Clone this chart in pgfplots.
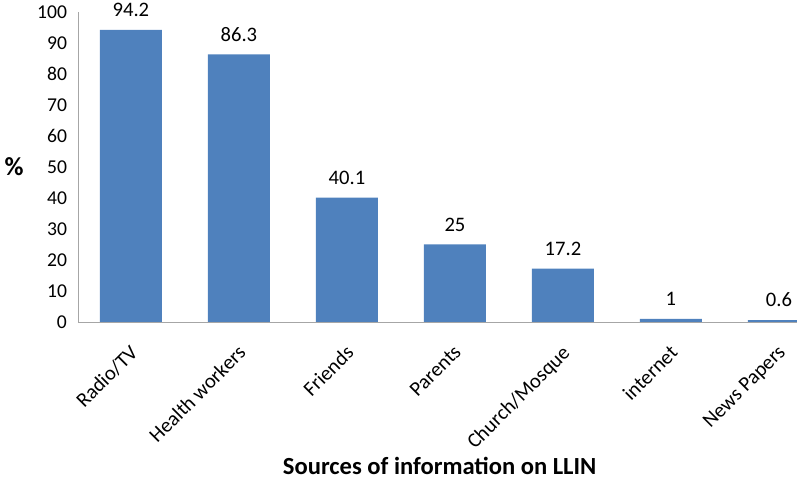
\documentclass[border=0pt]{standalone}
\usepackage{pgfplots}
\pgfplotsset{compat=1.18}
\usepackage{fontspec}
\setmainfont{Carlito}
\definecolor{barblue}{HTML}{4F81BD}
\definecolor{axgray}{HTML}{A6A6A6}
\begin{document}
\begin{tikzpicture}
\begin{axis}[
  scale only axis=true,
  width=359.5pt, height=155pt,
  xmin=-0.49, xmax=6.167,
  ymin=0, ymax=100,
  ytick={0,10,...,100},
  xtick={0,1,2,3,4,5,6},
  xticklabels={Radio/TV,Health workers,Friends,Parents,Church/Mosque,internet,News Papers},
  axis x line=bottom, axis y line=left,
  axis line style={draw=axgray, -},
  major tick length=0pt,
  /pgf/number format/assume math mode=true,
  yticklabel style={font=\fontsize{9.8}{11}\selectfont, text=black, xshift=-2pt},
  xticklabel style={font=\fontsize{10.3}{12}\selectfont, text=black, rotate=45, anchor=north east, xshift=-5pt, yshift=-3.5pt},
  ybar, bar width=0.574,
  nodes near coords,
  every node near coord/.append style={font=\fontsize{10.3}{12}\selectfont, text=black, yshift=3pt},
  ylabel={\textbf{\%}},
  ylabel style={at={(axis description cs:0,0.5)}, anchor=center, rotate=-90, xshift=-32pt, font=\fontsize{13}{14}\selectfont},
  xlabel={\textbf{Sources of information on LLIN}},
  xlabel style={at={(axis description cs:0.503,0)}, anchor=center, yshift=-72pt, font=\fontsize{12.3}{14}\selectfont},
]
\addplot[fill=barblue, draw=none] coordinates {(0,94.2) (1,86.3) (2,40.1) (3,25) (4,17.2) (5,1) (6,0.6)};
\coordinate (SW) at (rel axis cs:0,0);
\coordinate (NE) at (rel axis cs:1,1);
\end{axis}
\pgfresetboundingbox
\path ([xshift=-39pt,yshift=-78.5pt]SW) rectangle ([yshift=6pt]NE);
\end{tikzpicture}
\end{document}
